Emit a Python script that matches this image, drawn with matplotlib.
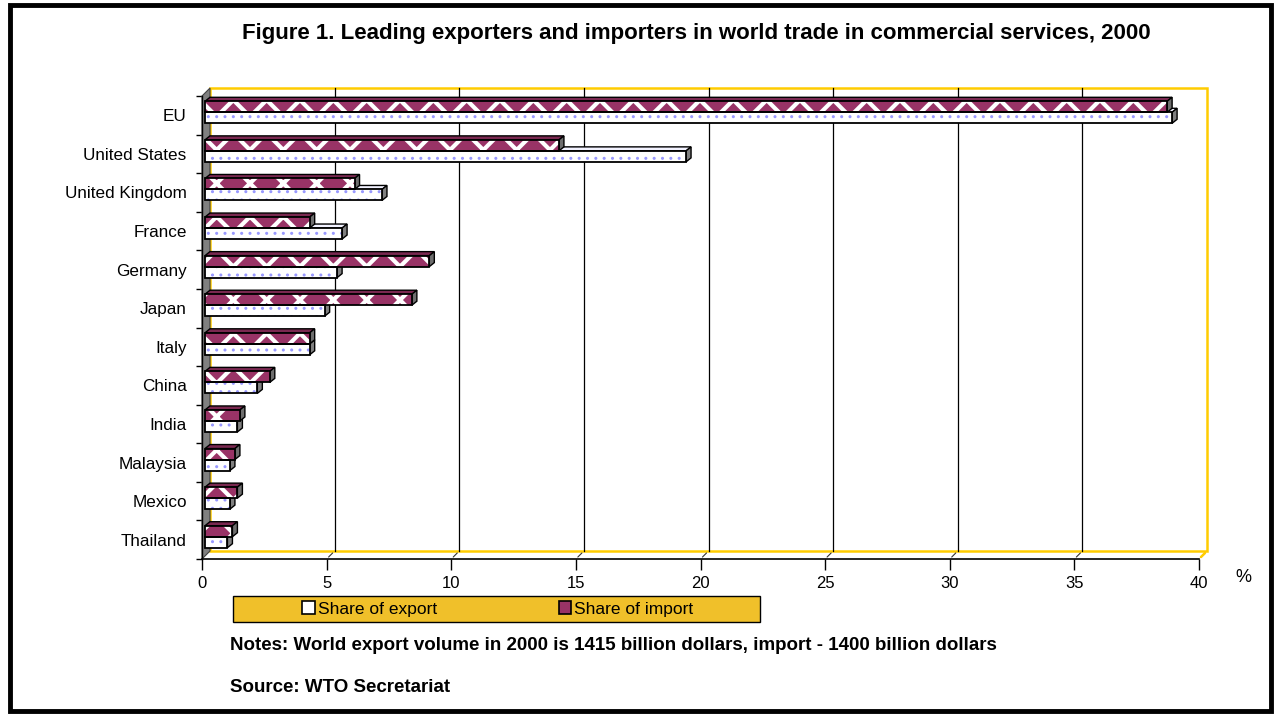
import matplotlib
matplotlib.use("Agg")
import matplotlib.pyplot as plt
import matplotlib.transforms as mtransforms
from matplotlib.patches import Polygon, Rectangle, Patch

plt.rcParams['font.family'] = ['Liberation Sans', 'DejaVu Sans']

# data (share of world trade, %)
countries = ['EU', 'United States', 'United Kingdom', 'France', 'Germany', 'Japan',
             'Italy', 'China', 'India', 'Malaysia', 'Mexico', 'Thailand']
share_export = [38.8, 19.3, 7.1, 5.5, 5.3, 4.8, 4.2, 2.1, 1.3, 1.0, 1.0, 0.9]
share_import = [38.6, 14.2, 6.0, 4.2, 9.0, 8.3, 4.2, 2.6, 1.4, 1.2, 1.3, 1.1]
x_ticks = [0, 5, 10, 15, 20, 25, 30, 35, 40]

W, H = 1274, 714
fig = plt.figure(figsize=(W / 100, H / 100), dpi=100)

# front plane of the 3D plot: x 202..1199 px, y 96..559 px (from top)
ax = fig.add_axes([202 / W, (H - 559) / H, 997 / W, 463 / H])
ax.set_xlim(0, 40)
ax.set_ylim(11.5, -0.5)
ax.patch.set_alpha(0)

maroon = '#993366'
yellow = '#FFCC00'
depth = 8  # px, depth of the back wall
back = mtransforms.offset_copy(ax.transData, fig=fig, x=depth, y=depth, units='dots')

# back wall outline and gridlines
ax.add_patch(Rectangle((0, -0.5), 40, 12, transform=back, facecolor='white',
                       edgecolor=yellow, lw=1.8, zorder=0, clip_on=False))
for xv in x_ticks[1:-1]:
    ax.plot([xv, xv], [11.5, -0.5], transform=back, color='black', lw=0.9, zorder=1,
            clip_on=False)
    # small diagonal on the floor
    ax.annotate('', xy=(xv, 11.5), xycoords=back, xytext=(xv, 11.5),
                textcoords='data', arrowprops=dict(arrowstyle='-', color='#333333', lw=0.8))

# floor edge on the right
ax.annotate('', xy=(40, 11.5), xycoords=back, xytext=(40, 11.5),
            textcoords='data', arrowprops=dict(arrowstyle='-', color=yellow, lw=1.8))

# grey left side wall
wall_pts = [ax.transData.transform((0, -0.5)), back.transform((0, -0.5)),
            back.transform((0, 11.5)), ax.transData.transform((0, 11.5))]
ax.add_patch(Polygon(wall_pts, closed=True, transform=None, facecolor='#808080',
                     edgecolor='#404040', lw=0.8, zorder=2, clip_on=False))

# bars, drawn with a slight offset into the depth plus a 3D top/side face
bar_tr = mtransforms.offset_copy(ax.transData, fig=fig, x=3, y=3, units='dots')
bh = 0.285
bdx, bdy = 5, 4


def bar3d(y, w, face, hatch, hatch_col, top, side, hlw):
    plt.rcParams['hatch.linewidth'] = hlw
    x0, y0 = bar_tr.transform((0, y + bh / 2))
    x1, y1 = bar_tr.transform((w, y - bh / 2))
    # top face
    ax.add_patch(Polygon([(x0, y1), (x1, y1), (x1 + bdx, y1 + bdy), (x0 + bdx, y1 + bdy)],
                         closed=True, transform=None, facecolor=top,
                         edgecolor='black', lw=1, zorder=3, clip_on=False))
    # side face
    ax.add_patch(Polygon([(x1, y0), (x1, y1), (x1 + bdx, y1 + bdy), (x1 + bdx, y0 + bdy)],
                         closed=True, transform=None, facecolor=side,
                         edgecolor='black', lw=1, zorder=3, clip_on=False))
    # front face
    ax.barh(y, w, height=bh, left=0, transform=bar_tr, color=face, hatch=hatch,
            edgecolor=hatch_col, lw=0, zorder=4)
    ax.barh(y, w, height=bh, left=0, transform=bar_tr, fill=False,
            edgecolor='black', lw=1.3, zorder=5)


for i in range(len(countries)):
    bar3d(i + bh / 2, share_export[i], 'white', '..', '#9999FF', '#f2f2ff', '#808080', 1.0)
    bar3d(i - bh / 2, share_import[i], maroon, 'x', 'white', '#7a2850', '#6e6e6e', 3.0)

# axes styling
for s in ['top', 'right']:
    ax.spines[s].set_visible(False)
ax.spines['bottom'].set_color('black')
ax.spines['bottom'].set_linewidth(1.2)
ax.spines['left'].set_color('black')
ax.spines['left'].set_linewidth(1.0)
ax.spines['bottom'].set_zorder(6)
ax.set_xticks(x_ticks)
ax.set_xticklabels([str(v) for v in x_ticks])
ax.tick_params(axis='x', length=8, width=1, pad=4, labelsize=12)
ax.set_yticks(range(len(countries)))
ax.set_yticklabels(countries)
ax.set_yticks([k + 0.5 for k in range(-1, len(countries))], minor=True)
ax.tick_params(axis='y', which='major', length=0, pad=11, labelsize=12.3)
ax.tick_params(axis='y', which='minor', length=4, width=1)
ax.text(1243 / W, (H - 578) / H, '%', transform=fig.transFigure, fontsize=13,
        ha='center', va='center')

# title and notes
fig.text(696 / W, (H - 33) / H,
         'Figure 1. Leading exporters and importers in world trade in commercial services, 2000',
         ha='center', va='center', fontsize=16, fontweight='bold')
fig.text(230 / W, (H - 645) / H,
         'Notes: World export volume in 2000 is 1415 billion dollars, import - 1400 billion dollars',
         ha='left', va='center', fontsize=13.5, fontweight='bold')
fig.text(230 / W, (H - 688) / H, 'Source: WTO Secretariat',
         ha='left', va='center', fontsize=13.5, fontweight='bold')

# legend on a yellow band
fig.patches.append(Rectangle((233 / W, (H - 622) / H), 527 / W, 26 / H,
                             transform=fig.transFigure, facecolor='#F0C02A',
                             edgecolor='black', lw=1))
plt.rcParams['hatch.linewidth'] = 1.0
handles = [Patch(facecolor='white', edgecolor='black', lw=1.2, label='Share of export'),
           Patch(facecolor=maroon, edgecolor='black', lw=1.2, label='Share of import')]
fig.legend(handles=handles, loc='center', bbox_to_anchor=(498 / W, (H - 609) / H),
           ncol=2, frameon=False, fontsize=12.5, handlelength=0.7, handleheight=0.7,
           handletextpad=0.2, columnspacing=7.0)

# outer border
fig.patches.append(Rectangle((9.5 / W, 3.5 / H), 1261 / W, 706 / H, transform=fig.transFigure,
                             fill=False, edgecolor='black', lw=3.5))

fig.savefig('out.png', dpi=100)
